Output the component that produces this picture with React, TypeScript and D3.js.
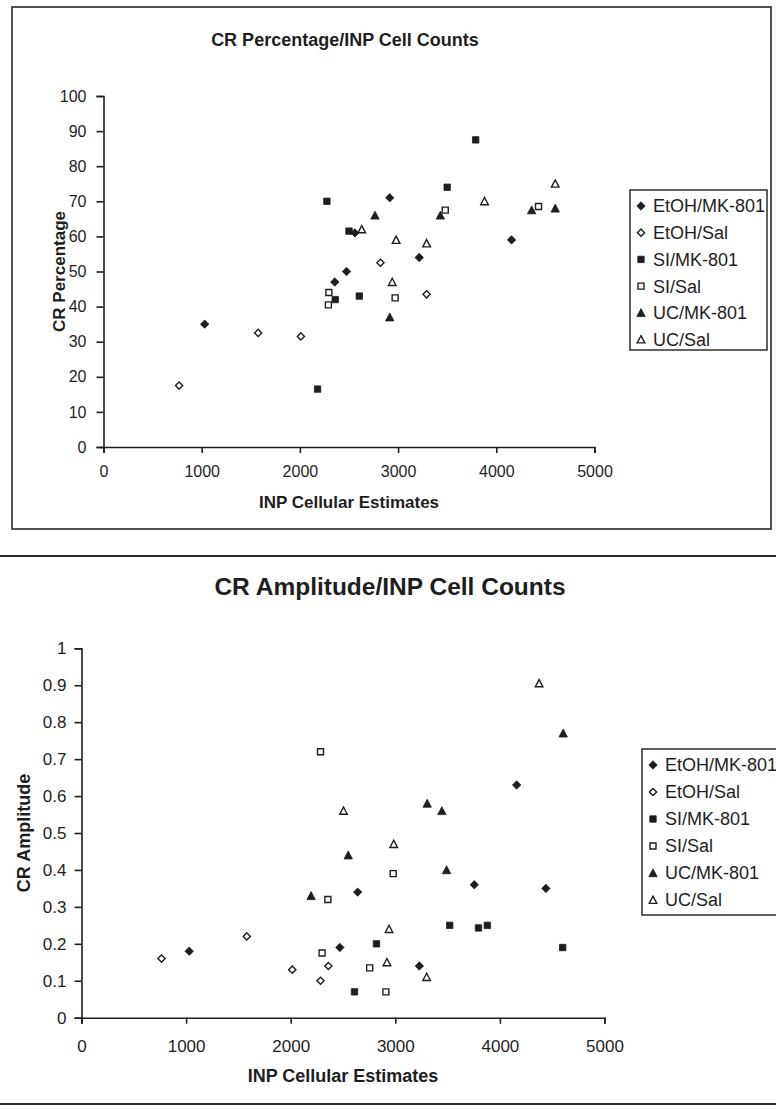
import React, { useEffect, useRef } from "react";
import * as d3 from "d3";

// legend / series order
const seriesNames = ["EtOH/MK-801", "EtOH/Sal", "SI/MK-801", "SI/Sal", "UC/MK-801", "UC/Sal"];

// CR Percentage vs INP cellular estimates
const pctEtohMk = [[1030, 35], [2355, 47], [2475, 50], [2560, 61], [2915, 71], [3215, 54], [4155, 59]];
const pctEtohSal = [[770, 17.5], [1575, 32.5], [2010, 31.5], [2820, 52.5], [3290, 43.5]];
const pctSiMk = [[2180, 16.5], [2275, 70], [2360, 42], [2500, 61.5], [2605, 43], [3500, 74], [3790, 87.5]];
const pctSiSal = [[2290, 40.5], [2295, 44], [2970, 42.5], [3480, 67.5], [4430, 68.5]];
const pctUcMk = [[2765, 66], [2915, 37], [3430, 66], [4360, 67.5], [4600, 68]];
const pctUcSal = [[2630, 62], [2940, 47], [2980, 59], [3290, 58], [3880, 70], [4600, 75]];

// CR Amplitude vs INP cellular estimates
const ampEtohMk = [[1030, 0.18], [2470, 0.19], [2640, 0.34], [3230, 0.14], [3755, 0.36], [4160, 0.63], [4440, 0.35]];
const ampEtohSal = [[765, 0.16], [1580, 0.22], [2015, 0.13], [2285, 0.1], [2360, 0.14]];
const ampSiMk = [[2610, 0.07], [2820, 0.2], [3520, 0.25], [3795, 0.243], [3880, 0.25], [4600, 0.19]];
const ampSiSal = [[2285, 0.72], [2300, 0.175], [2355, 0.32], [2755, 0.135], [2910, 0.07], [2980, 0.39]];
const ampUcMk = [[2195, 0.33], [2550, 0.44], [3305, 0.58], [3445, 0.56], [3490, 0.4], [4605, 0.77]];
const ampUcSal = [[2505, 0.56], [2920, 0.15], [2940, 0.24], [2985, 0.47], [3300, 0.11], [4375, 0.905]];

const xTicks = [0, 1000, 2000, 3000, 4000, 5000];
const pctTicks = [0, 10, 20, 30, 40, 50, 60, 70, 80, 90, 100];
const ampTicks = [0, 0.1, 0.2, 0.3, 0.4, 0.5, 0.6, 0.7, 0.8, 0.9, 1];

const W = 776;
const H = 1110;
const FONT = "Arial, 'Liberation Sans', sans-serif";
const INK = "#1e1e1e";

// marker per series: shape + filled
const markers = [
  { shape: "diamond", fill: true },
  { shape: "diamond", fill: false },
  { shape: "square", fill: true },
  { shape: "square", fill: false },
  { shape: "triangle", fill: true },
  { shape: "triangle", fill: false },
];

function markerPath(shape: string, fill: boolean) {
  if (shape === "diamond") {
    const s = fill ? 4.2 : 3.6;
    return `M0,${-s}L${s},0L0,${s}L${-s},0Z`;
  }
  if (shape === "square") {
    const s = fill ? 3.2 : 3;
    return `M${-s},${-s}H${s}V${s}H${-s}Z`;
  }
  const s = fill ? 4.2 : 3.8;
  return `M0,${-s}L${s},${s * 0.9}L${-s},${s * 0.9}Z`;
}

function drawMarker(g: any, i: number, x: number, y: number) {
  const m = markers[i];
  g.append("path")
    .attr("d", markerPath(m.shape, m.fill))
    .attr("transform", `translate(${x},${y})`)
    .attr("fill", m.fill ? INK : "#fff")
    .attr("stroke", INK)
    .attr("stroke-width", m.fill ? 0.8 : 1.4);
}

interface ChartCfg {
  series: number[][][];
  yTicks: number[];
  yMax: number;
  x0: number; x1: number; y0: number; y1: number;
  title: string; titleX: number; titleY: number; titleSize: number;
  yLabel: string; yLabelX: number;
  xLabelY: number;
  tickFont: number; labelFont: number;
  yPad: number; xPad: number;
  legendX: number; legendY: number; legendW: number; legendH: number;
  legendFont: number; legendStep: number;
}

function drawChart(svg: any, c: ChartCfg) {
  const x = d3.scaleLinear().domain([0, 5000]).range([c.x0, c.x1]);
  const y = d3.scaleLinear().domain([0, c.yMax]).range([c.y0, c.y1]);
  const g = svg.append("g");

  g.append("text")
    .attr("x", c.titleX).attr("y", c.titleY)
    .attr("text-anchor", "middle")
    .attr("font-family", FONT).attr("font-weight", "bold")
    .attr("font-size", c.titleSize).attr("fill", INK)
    .text(c.title);

  const yAxis = g.append("g")
    .attr("transform", `translate(${c.x0},0)`)
    .call(d3.axisLeft(y).tickValues(c.yTicks).tickSize(7).tickPadding(c.yPad)
      .tickFormat((d: any) => String(+(+d).toFixed(1))));
  const xAxis = g.append("g")
    .attr("transform", `translate(0,${c.y0})`)
    .call(d3.axisBottom(x).tickValues(xTicks).tickSize(6).tickPadding(c.xPad)
      .tickFormat((d: any) => String(d)));
  [yAxis, xAxis].forEach((a) => {
    a.selectAll("path, line").attr("stroke", INK).attr("stroke-width", 1.6);
    a.selectAll("text").attr("font-family", FONT).attr("font-size", c.tickFont).attr("fill", INK);
  });

  g.append("text")
    .attr("x", (c.x0 + c.x1) / 2).attr("y", c.xLabelY)
    .attr("text-anchor", "middle")
    .attr("font-family", FONT).attr("font-weight", "bold")
    .attr("font-size", c.labelFont).attr("fill", INK)
    .text("INP Cellular Estimates");

  g.append("text")
    .attr("transform", `translate(${c.yLabelX},${(c.y0 + c.y1) / 2}) rotate(-90)`)
    .attr("text-anchor", "middle")
    .attr("font-family", FONT).attr("font-weight", "bold")
    .attr("font-size", c.labelFont).attr("fill", INK)
    .text(c.yLabel);

  const pts = g.append("g");
  c.series.forEach((data, i) => {
    data.forEach((d) => drawMarker(pts, i, x(d[0]), y(d[1])));
  });

  const lg = g.append("g").attr("transform", `translate(${c.legendX},${c.legendY})`);
  lg.append("rect")
    .attr("width", c.legendW).attr("height", c.legendH)
    .attr("fill", "#fff").attr("stroke", INK).attr("stroke-width", 1.4);
  seriesNames.forEach((name, i) => {
    const cy = 16 + i * c.legendStep;
    drawMarker(lg, i, 11, cy);
    lg.append("text")
      .attr("x", 23).attr("y", cy).attr("dy", "0.36em")
      .attr("font-family", FONT).attr("font-size", c.legendFont).attr("fill", INK)
      .text(name);
  });
}

export default function App() {
  const ref = useRef<SVGSVGElement>(null);

  useEffect(() => {
    const svg = d3.select(ref.current);
    svg.selectAll("*").remove();

    // frame of the upper chart and page separators
    svg.append("rect")
      .attr("x", 12).attr("y", 7).attr("width", 759).attr("height", 522)
      .attr("fill", "none").attr("stroke", "#2a2a2a").attr("stroke-width", 1.6);
    [556, 1104].forEach((ly) => {
      svg.append("line")
        .attr("x1", 0).attr("x2", W).attr("y1", ly).attr("y2", ly)
        .attr("stroke", "#2a2a2a").attr("stroke-width", 1.8);
    });

    drawChart(svg, {
      series: [pctEtohMk, pctEtohSal, pctSiMk, pctSiSal, pctUcMk, pctUcSal],
      yTicks: pctTicks, yMax: 100,
      x0: 103.5, x1: 594.5, y0: 447, y1: 96,
      title: "CR Percentage/INP Cell Counts", titleX: 345, titleY: 46, titleSize: 18,
      yLabel: "CR Percentage", yLabelX: 65,
      xLabelY: 508, tickFont: 16, labelFont: 17,
      yPad: 10, xPad: 13,
      legendX: 630, legendY: 190, legendW: 137, legendH: 160,
      legendFont: 18, legendStep: 26.7,
    });

    drawChart(svg, {
      series: [ampEtohMk, ampEtohSal, ampSiMk, ampSiSal, ampUcMk, ampUcSal],
      yTicks: ampTicks, yMax: 1,
      x0: 81.5, x1: 604.5, y0: 1017.7, y1: 648.3,
      title: "CR Amplitude/INP Cell Counts", titleX: 390, titleY: 595, titleSize: 24.5,
      yLabel: "CR Amplitude", yLabelX: 30,
      xLabelY: 1082, tickFont: 17, labelFont: 18,
      yPad: 8, xPad: 16,
      legendX: 642, legendY: 749, legendW: 150, legendH: 166,
      legendFont: 18, legendStep: 27,
    });
  }, []);

  return (
    <svg
      ref={ref}
      width={W}
      height={H}
      viewBox={`0 0 ${W} ${H}`}
      style={{ position: "absolute", left: 0, top: 0, background: "#fff" }}
    />
  );
}
